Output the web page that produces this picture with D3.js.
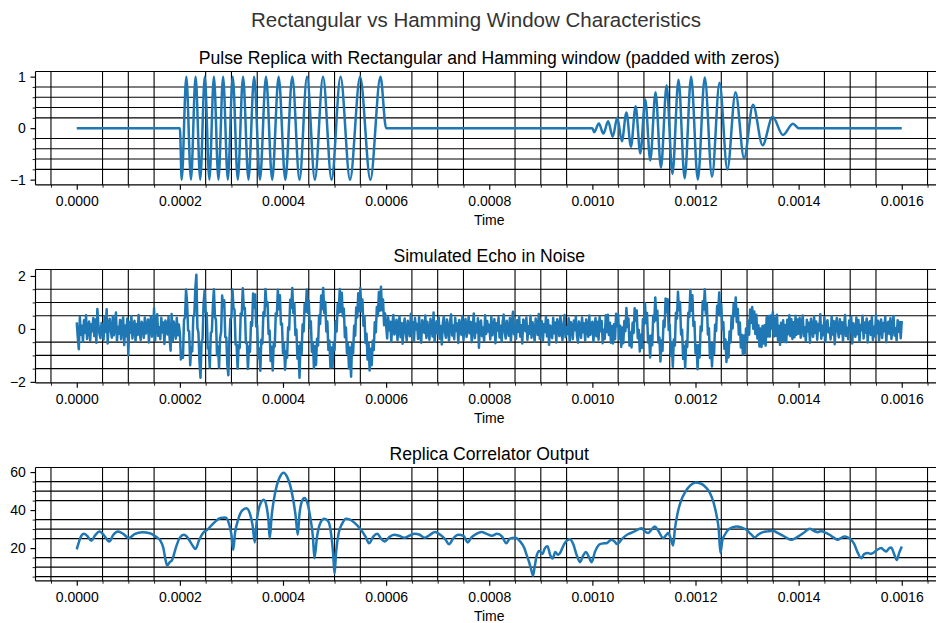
<!DOCTYPE html>
<html>
<head>
<meta charset="utf-8">
<script src="https://cdn.jsdelivr.net/npm/d3@7"></script>
<style>
  html, body { margin: 0; padding: 0; background: #ffffff; }
  svg { display: block; font-family: "Liberation Sans", Arial, Helvetica, sans-serif; }
</style>
</head>
<body>
<svg id="fig" width="936" height="623"></svg>
<script>
// ---------------------------------------------------------------
// Data (times in microseconds)
// ---------------------------------------------------------------
const suptitle = "Rectangular vs Hamming Window Characteristics";
const panelTitles = [
  "Pulse Replica with Rectangular and Hamming window (padded with zeros)",
  "Simulated Echo in Noise",
  "Replica Correlator Output"
];
const xLabel = "Time";

const timeTicks = [0, 200, 400, 600, 800, 1000, 1200, 1400, 1600];
const timeTickLabels = ["0.0000", "0.0002", "0.0004", "0.0006", "0.0008",
                        "0.0010", "0.0012", "0.0014", "0.0016"];
const replicaTicks = [-1, 0, 1];
const echoTicks = [-2, 0, 2];
const correlatorTicks = [20, 40, 60];

// replica: zero padding edges, then the chirp extrema of each pulse
const replicaEdges = [0, 200, 600, 1000, 1400, 1600];
const rectTime = [203.5, 212.5, 221.5, 230.5, 239.5, 248.3, 257.2, 266, 274.8, 283.8,
  293, 302.5, 312.3, 322.5, 333, 344, 355.3, 367, 379, 391.5, 404.5, 418, 432, 446.6,
  461.8, 477.6, 494.2, 511.6, 530, 549.5, 569.5, 589];
const rectValue = [-1, 1, -1, 1, -1, 1, -1, 1, -1, 1, -1, 1, -1, 1, -1, 1,
  -1, 1, -1, 1, -1, 1, -1, 1, -1, 1, -1, 1, -1, 1, -1, 1];
const hammingTime = [1003.5, 1012.5, 1021.5, 1030.5, 1039.5, 1048.3, 1057.2, 1066, 1074.8,
  1083.8, 1093, 1102.5, 1112.3, 1122.5, 1133, 1144, 1155.3, 1167, 1179, 1191.5, 1204.5,
  1218, 1232, 1246.6, 1261.8, 1277.6, 1294.2, 1311.6, 1330, 1349.5, 1369.5, 1389];
const hammingValue = [-0.08, 0.089, -0.106, 0.132, -0.166, 0.206, -0.254, 0.306, -0.362,
  0.424, -0.49, 0.558, -0.628, 0.699, -0.768, 0.833, -0.891, 0.94, -0.975, 0.996, -0.999,
  0.982, -0.943, 0.883, -0.803, 0.699, -0.582, 0.456, -0.331, 0.219, -0.132, 0.087];

// echo: samples every 2 us from 0 to 1600 us
const echoStep = 2;
const echoQuietA = [
  0.25,-0.31,-0.77,0.45,-0.22,0.12,-0.48,0.33,-0.15,0.52,
  -0.38,0.05,0.28,-0.44,0.18,-0.09,0.41,-0.27,0.36,-0.52,
  0.75,0.14,-0.19,-0.35,0.22,0.03,-0.41,0.47,-0.12,0.74,
  -0.55,0.16,0.38,-0.06,-0.33,0.49,-0.24,0.11,0.62,-0.45,
  0.07,-0.18,0.34,-0.39,0.21,0.44,-0.61,0.13,-0.28,0.39,
  -0.98,0.26,-0.14,0.48,-0.36,0.09,0.31,-0.47,0.19,-0.23,
  0.53,-0.08,-0.42,0.27,0.15,-0.34,0.43,-0.17,0.04,0.36,
  -0.51,0.22,0.47,-0.29,-0.11,0.78,-0.44,0.18,0.55,-0.26,
  0.06,-0.39,0.42,-0.13,0.24,-0.57,0.32,0.12,-0.21,0.46,
  -0.33,-0.82,0.56,-0.46,0.28,0.05,-0.37,0.41,-0.24,0.17];
const echoRect = [
  -0.15,-1.15,-0.89,-1.09,0.35,0.44,1.49,0.97,-0.06,-0.09,
  -1.37,-0.69,-0.84,0.45,0.54,1.54,2.05,0.04,-0.14,-1.22,
  -1.84,-0.53,-0.37,0.98,1.44,0.63,0.61,-0.73,-0.71,-1.46,
  -0.14,-0.11,0.86,1.5,0.46,0.34,-0.99,-0.66,-1.46,-0.34,
  -0.11,1.26,0.85,1.08,-0.31,-0.32,-1.34,-1.75,-0.45,0.38,
  0.43,1.49,0.79,0.73,-0.59,-0.59,-1.5,-0.62,-0.72,0.58,
  0.52,1.54,0.75,0.8,-0.53,-0.52,-1.51,-0.66,-0.86,0.26,
  0.12,1.34,0.8,1.3,0.09,0.15,-1.11,-0.74,-1.58,-0.4,
  -0.55,0.63,0.49,1.51,0.87,1.01,-0.19,-0.06,-1.21,-0.67,
  -1.57,-0.53,-0.66,0.59,0.49,1.48,0.74,1.27,0.17,0.2,
  -0.92,-0.57,-1.54,-0.84,-1.09,0.06,-0.03,1.1,0.79,1.55,
  0.6,0.97,-0.23,-0.02,-1.12,-0.65,-1.84,-0.56,-0.95,0.17,
  -0.1,0.95,0.65,1.49,0.61,1.06,0.04,0.29,-0.86,-0.51,
  -1.48,-0.65,-1.36,-0.37,-0.63,0.51,0.19,1.26,0.75,1.55,
  0.6,1.02,-0.1,0.28,-0.79,-0.45,-1.46,-0.7,-1.45,-0.57,
  -0.8,0.29,-0.1,0.93,0.6,1.51,0.65,1.37,0.48,0.76,
  -0.31,0.05,-0.92,-0.58,-1.49,-0.7,-1.8,-0.55,-0.92,0.12,
  -0.26,0.81,0.43,1.35,0.67,1.55,0.67,1.11,0.12,0.48,
  -0.53,-0.18,-1.15,-0.55,-1.57,-0.75,-1.37,-0.45,-0.8,0.25,
  -0.13,0.83,0.49,1.39,0.69,1.59,0.71,1.11,0.14,0.58];
const echoQuietB = [
  0.12,-0.36,0.44,-0.05,0.27,-0.49,0.18,0.53,-0.21,-0.07,
  0.35,-0.42,0.09,0.48,-0.31,0.22,-0.56,0.14,0.39,-0.17,
  -0.44,0.31,0.06,-0.28,0.57,-0.11,0.25,-0.47,0.41,-0.02,
  0.19,-0.38,0.46,-0.23,-0.52,0.33,0.08,-0.15,0.51,-0.34,
  0.27,-0.06,-0.41,0.38,0.15,-0.29,0.62,-0.48,0.04,0.29,
  -0.18,0.43,-0.37,0.11,-0.59,0.24,0.47,-0.12,-0.33,0.36,
  0.02,-0.45,0.28,0.55,-0.25,0.13,-0.39,0.42,-0.08,0.21,
  -0.53,0.34,0.07,-0.22,0.49,-0.43,0.17,0.38,-0.3,-0.04,
  0.45,-0.16,0.26,-0.5,0.1,0.58,-0.35,0.2,-0.13,0.4,
  -0.71,0.23,0.32,-0.27,0.05,-0.46,0.52,-0.19,0.3,-0.1,
  0.16,-0.4,0.47,-0.24,0.09,0.37,-0.54,0.21,-0.06,0.44,
  -0.32,0.12,-0.49,0.27,0.54,-0.14,-0.36,0.31,0.03,-0.26,
  0.41,-0.47,0.19,0.65,-0.2,0.07,-0.38,0.33,-0.11,0.48,
  -0.29,0.14,-0.55,0.36,0.22,-0.09,0.43,-0.41,0.1,-0.18,
  0.5,-0.33,0.25,-0.03,-0.48,0.39,0.15,-0.23,0.56,-0.37,
  0.08,0.29,-0.45,0.18,-0.12,0.46,-0.28,0.34,-0.6,0.13,
  0.04,-0.35,0.42,-0.16,0.24,-0.51,0.37,0.11,-0.27,0.49,
  -0.08,-0.43,0.2,0.53,-0.31,0.06,-0.19,0.4,-0.47,0.26,
  0.15,-0.39,0.32,-0.05,0.47,-0.24,-0.52,0.28,0.09,-0.34,
  0.43,-0.13,0.21,-0.44,0.36,0.02,-0.3,0.51,-0.22,0.17];
const echoHamming = [
  0.27,-0.49,0.07,0.41,-0.28,0.27,-0.41,0.46,-0.09,0.3,
  -0.54,-0.03,-0.38,0.52,-0.12,0.54,-0.23,0.23,-0.52,0.11,
  -0.55,0.18,-0.39,0.57,0.1,0.54,-0.37,0.12,-0.68,0.05,
  -0.54,0.3,-0.09,0.79,0.07,0.39,-0.63,-0.13,-0.7,0.23,
  -0.15,0.78,0.31,0.7,-0.35,-0.04,-0.85,-0.22,-0.72,0.37,
  0.17,0.97,0.22,0.6,-0.51,-0.27,-1.08,-0.25,-0.62,0.5,
  0.27,1.19,0.34,0.69,-0.51,-0.32,-1.23,-0.44,-0.83,0.31,
  0.07,1.15,0.63,1.12,-0.04,0.16,-1.01,-0.53,-1.43,-0.4,
  -0.63,0.61,0.39,1.4,0.71,1.01,-0.21,-0.03,-1.13,-0.64,
  -1.47,-0.47,-0.68,0.61,0.45,1.47,0.69,1.27,0.11,0.27,
  -0.92,-0.62,-1.52,-0.62,-1.08,0.09,-0.08,1.05,0.73,1.5,
  0.58,0.97,-0.21,0.03,-1.1,-0.58,-1.42,-0.55,-0.95,0.16,
  -0.08,0.88,0.56,1.38,0.51,0.93,-0.02,0.25,-0.75,-0.4,
  -1.25,-0.5,-1.08,-0.1,-0.51,0.49,0.02,0.95,0.49,1.19,
  0.26,0.75,-0.21,0.24,-0.7,-0.23,-0.97,-0.25,-0.92,0.02,
  -0.47,0.31,-0.22,0.73,0.23,0.83,0.01,0.66,-0.19,0.54,
  -0.36,0.14,-0.66,0.02,-0.68,0.11,-0.55,0.14,-0.63,0.44,
  -0.29,0.49,-0.29,0.51,0.02,0.64,-0.29,0.42,-0.26,0.54,
  -0.43,0.12,-0.6,0.23,-0.42,0.33,-0.49,0.15,-0.5,0.35,
  -0.2,0.52,-0.27,0.37,-0.38,0.25,-0.31,0.5,-0.22,0.36];
const echoQuietC = [
  -0.18,0.42,-0.33,0.14,0.51,-0.27,0.06,-0.46,0.35,-0.1,
  0.23,-0.52,0.38,0.09,-0.3,0.47,-0.15,0.28,-0.41,0.19,
  -0.06,0.55,-0.37,0.12,-0.24,0.44,-0.49,0.2,0.33,-0.13,
  0.02,-0.4,0.48,-0.21,0.3,-0.58,0.16,0.41,-0.08,-0.32,
  0.37,-0.17,0.25,-0.45,0.11,0.53,-0.26,0.04,-0.39,0.32,
  -0.12,0.46,-0.55,0.21,0.07,-0.3,0.43,-0.2,0.34,-0.47,
  0.15,-0.05,0.5,-0.36,0.24,-0.14,0.39,-0.51,0.18,0.29,
  -0.23,0.45,-0.42,0.08,-0.28,0.52,-0.16,0.31,-0.44,0.13,
  0.36,-0.34,0.22,-0.09,0.47,-0.5,0.17,0.27,-0.19,0.4,
  -0.38,0.1,0.49,-0.25,0.03,-0.43,0.33,-0.11,0.26,-0.35,
  0.3];

// correlator output: [time (us), value]
const correlatorPoints = [
  [0,19.3],[4,23],[9,26.5],[14,27.5],[20,26.5],[28.4,23.8],[35,26.5],[44.5,28.7],[52,27],
  [63,23.5],[71,27],[80,28.7],[90,27.5],[101,25.3],[113,27.5],[127,28.4],[142,27.8],
  [153,26.1],[162,24],[168,20],[172,14],[175.6,10.8],[180,12.5],[185,13.8],[192,20],
  [200,25.5],[207.8,27],[215,25.5],[222,22.5],[230.4,19.5],[237,24],[245,28],[253,29.6],
  [265,33],[278.9,35.8],[288.5,36.1],[295,33],[300,27],[303.4,19.1],[307,28],[313,35],
  [320,39.5],[329.2,41],[336,38],[341,32],[345.3,23],[349,34],[355,42.5],[362.7,45.4],
  [368,42],[372,34],[374.3,25],[378,37],[382,45],[388,53],[394,57.5],[401,59.7],[408,57.5],
  [414,53],[420,45],[424.5,37],[428.6,27],[432,38],[436,44],[441.5,46.3],[447,44],[453,36],
  [458,26],[461,14.7],[466,26],[472,33],[480,35.5],[488,34],[494,26],[497,18],[500,6.5],
  [503,18],[508,28],[515,33],[522,35.5],[530,35],[540,33],[550,30],[560,26],[567,22.5],
  [575,26],[583,27.5],[590,25],[597,23.5],[605,25.5],[615,27],[625,26.5],[635,25.5],
  [645,26.5],[655,27.5],[665,27],[675,25.5],[685,27],[695,28.5],[705,27],[715,24.5],
  [722,22],[730,25],[740,27],[750,26.5],[758,23],[765,25.5],[775,27.5],[785,28.5],
  [795,27.5],[805,26.5],[815,27.5],[825,26],[833,22.5],[840,25],[850,25.5],[860,23.5],
  [868,20],[873,16],[878,12],[882,8],[885,5.5],[888,10],[892,16],[897,18.5],[903,17],
  [908,20],[913,21],[918,16.5],[923,14.5],[928,18],[933,16.5],[937,17.3],[945,22],
  [956.6,24.6],[963,22],[970,16],[976,12.6],[982,16],[987.6,17.9],[993,15.5],[998.6,12.6],
  [1005,18],[1014.7,22.1],[1020,22.4],[1027.7,22.6],[1037,24.4],[1043,23.5],[1048,22.1],
  [1058,25],[1069.6,27.4],[1080,28.5],[1095.5,30.5],[1101,29],[1108,27.9],[1114,29.5],
  [1121,31.4],[1128,29],[1137.4,25.3],[1142,26.5],[1147,27.9],[1152,25],[1156.7,21.4],
  [1160,30],[1165,38],[1172,45],[1180,49.5],[1190,53],[1200,54.5],[1210,54],[1220,52],
  [1228,49],[1235,44],[1241,37],[1245,30],[1248.4,17.4],[1252,24],[1256.8,27],[1265,30],
  [1279.4,31.4],[1290,30.8],[1298.8,29.6],[1307,27.5],[1314.9,25.6],[1322,27.2],
  [1331,28.4],[1340,28.8],[1350.3,29.1],[1358,28.2],[1366.6,27],[1376,25.5],[1386,24.4],
  [1394,25.3],[1402,26.6],[1412,28.5],[1421.4,30.2],[1430,29],[1437.5,28.4],[1442,28.9],
  [1447.1,28.7],[1453,28],[1460,27],[1468,25.5],[1476,24.4],[1482,25.3],[1489,26.1],
  [1496,25.5],[1502,24.4],[1508,22],[1514,18],[1521.5,14.7],[1527,16.8],[1534.3,17.4],
  [1539,17],[1544,17.4],[1552,19],[1560.2,20],[1565,19],[1570,18.2],[1575,19.8],
  [1579.6,20.3],[1585,17],[1590.4,13.8],[1595,17.5],[1600,20.8]];

// ---------------------------------------------------------------
// Series assembly
// ---------------------------------------------------------------
const replicaSeries = [
  ...replicaEdges.slice(0, 2).map(t => ({t, v: 0})),
  ...rectTime.map((t, i) => ({t, v: rectValue[i]})),
  ...replicaEdges.slice(2, 4).map(t => ({t, v: 0})),
  ...hammingTime.map((t, i) => ({t, v: hammingValue[i]})),
  ...replicaEdges.slice(4).map(t => ({t, v: 0}))
];
const echoSeries = [...echoQuietA, ...echoRect, ...echoQuietB, ...echoHamming, ...echoQuietC]
  .map((v, i) => ({t: i * echoStep, v}));
const correlatorSeries = correlatorPoints.map(([t, v]) => ({t, v}));

// ---------------------------------------------------------------
// Layout and styles
// ---------------------------------------------------------------
const plotLeft = 35.5, plotRight = 943;
const panelTops = [71.5, 269.5, 467.5];
const panelHeight = 113.3;
const lineColor = "#1f77b4";
const lineWidth = 2.5;
const tickFont = 14;

const svg = d3.select("#fig");

function padded(extent) {
  const p = (extent[1] - extent[0]) * 0.05;
  return [extent[0] - p, extent[1] + p];
}

const x = d3.scaleLinear()
  .domain(padded(d3.extent(echoSeries, d => d.t)))
  .range([plotLeft, plotRight]);

// minor ticks every 50 us, skipping major positions
const xMinor = d3.range(Math.ceil(x.domain()[0] / 50), Math.floor(x.domain()[1] / 50) + 1)
  .filter(k => k % 4 !== 0).map(k => k * 50);

function drawPanel(index, series, yTicks, minorStep, minorPerMajor, curve) {
  const top = panelTops[index];
  const bottom = top + panelHeight;
  const y = d3.scaleLinear()
    .domain(padded(d3.extent(series, d => d.v)))
    .range([bottom, top]);

  const yDom = y.domain();
  const yMinor = d3.range(Math.ceil(yDom[0] / minorStep - 1e-9), Math.floor(yDom[1] / minorStep + 1e-9) + 1)
    .filter(k => k % minorPerMajor !== 0).map(k => k * minorStep);

  const g = svg.append("g");

  // minor grid
  const grid = g.append("g").attr("stroke", "#000").attr("stroke-width", 1.1);
  grid.selectAll("line.gx").data(xMinor).join("line")
    .attr("x1", d => x(d)).attr("x2", d => x(d))
    .attr("y1", top).attr("y2", bottom);
  grid.selectAll("line.gy").data(yMinor).join("line")
    .attr("x1", plotLeft).attr("x2", plotRight)
    .attr("y1", d => y(d)).attr("y2", d => y(d));

  // data line
  const line = d3.line().x(d => x(d.t)).y(d => y(d.v)).curve(curve);
  g.append("path").datum(series)
    .attr("d", line)
    .attr("fill", "none")
    .attr("stroke", lineColor)
    .attr("stroke-width", lineWidth)
    .attr("stroke-linejoin", "round");

  // x axis: major and minor ticks
  const xAxis = d3.axisBottom(x).tickValues(timeTicks)
    .tickFormat((d, i) => timeTickLabels[i])
    .tickSize(5).tickPadding(6.7).tickSizeOuter(0);
  const gx = g.append("g").attr("transform", `translate(0,${bottom})`).call(xAxis);
  const gxm = g.append("g").attr("transform", `translate(0,${bottom})`)
    .call(d3.axisBottom(x).tickValues(xMinor).tickFormat("").tickSize(2.9).tickSizeOuter(0));

  // y axis: major and minor ticks
  const yAxis = d3.axisLeft(y).tickValues(yTicks).tickFormat(d3.format("d"))
    .tickSize(5).tickPadding(4.6).tickSizeOuter(0);
  const gy = g.append("g").attr("transform", `translate(${plotLeft},0)`).call(yAxis);
  const gym = g.append("g").attr("transform", `translate(${plotLeft},0)`)
    .call(d3.axisLeft(y).tickValues(yMinor).tickFormat("").tickSize(2.9).tickSizeOuter(0));

  [gx, gxm, gy, gym].forEach(a => {
    a.select(".domain").remove();
    a.attr("font-family", null).attr("font-size", null);
    a.selectAll("text").attr("font-size", tickFont).attr("fill", "#000");
  });
  gx.selectAll("line").attr("stroke", "#000").attr("stroke-width", 1.15);
  gy.selectAll("line").attr("stroke", "#000").attr("stroke-width", 1.15);
  gxm.selectAll("line").attr("stroke", "#000").attr("stroke-width", 0.86);
  gym.selectAll("line").attr("stroke", "#000").attr("stroke-width", 0.86);

  // spines (left, top, bottom; right edge lies beyond the page)
  const spines = g.append("g").attr("stroke", "#000").attr("stroke-width", 1.15)
    .attr("fill", "none");
  spines.append("line").attr("x1", plotLeft).attr("x2", plotLeft).attr("y1", top).attr("y2", bottom);
  spines.append("line").attr("x1", plotLeft).attr("x2", plotRight).attr("y1", top).attr("y2", top);
  spines.append("line").attr("x1", plotLeft).attr("x2", plotRight).attr("y1", bottom).attr("y2", bottom);
  spines.append("line").attr("x1", plotRight).attr("x2", plotRight).attr("y1", top).attr("y2", bottom);

  // title and x label
  const cx = (plotLeft + plotRight) / 2;
  g.append("text").attr("x", cx).attr("y", top - 8)
    .attr("text-anchor", "middle").attr("font-size", 17.6).attr("fill", "#000")
    .text(panelTitles[index]);
  g.append("text").attr("x", cx).attr("y", bottom + 40.2)
    .attr("text-anchor", "middle").attr("font-size", tickFont).attr("fill", "#000")
    .text(xLabel);
}

drawPanel(0, replicaSeries, replicaTicks, 0.2, 5, d3.curveMonotoneX);
drawPanel(1, echoSeries, echoTicks, 0.5, 4, d3.curveLinear);
drawPanel(2, correlatorSeries, correlatorTicks, 5, 4, d3.curveMonotoneX);

svg.append("text")
  .attr("x", 476).attr("y", 26.5)
  .attr("text-anchor", "middle")
  .attr("font-size", 20.5)
  .attr("fill", "#333")
  .text(suptitle);
</script>
</body>
</html>
